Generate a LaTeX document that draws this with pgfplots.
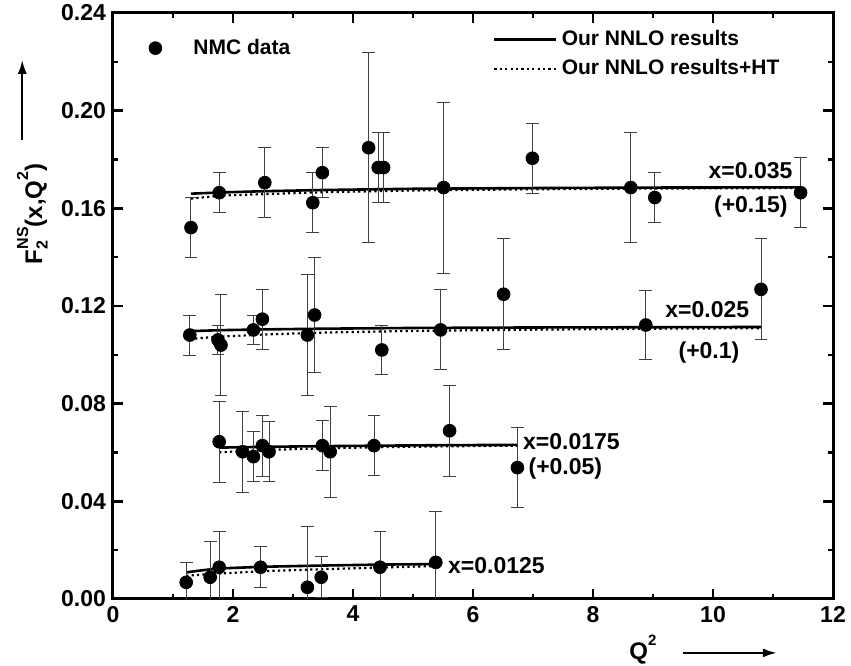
\documentclass[border=0pt]{standalone}
\usepackage{pgfplots}
\pgfplotsset{compat=1.18}
\usepackage{pgfplotstable}
\usepackage{fontspec}
\setmainfont{Liberation Sans}
\usetikzlibrary{arrows.meta}

\pgfplotstableread{
x y e
1.30 0.1521 0.0123
1.77 0.1664 0.0082
2.53 0.1705 0.0143
3.33 0.1623 0.0123
3.49 0.1746 0.0103
4.26 0.1848 0.0390
4.42 0.1767 0.0143
4.51 0.1767 0.0143
5.51 0.1685 0.0350
6.99 0.1805 0.0143
8.63 0.1685 0.0225
9.03 0.1644 0.0102
11.46 0.1664 0.0143
}\dataA
\pgfplotstableread{
x y e
1.28 0.1081 0.0082
1.75 0.1061 0.0061
1.80 0.1040 0.0205
2.34 0.1102 0.0061
2.49 0.1146 0.0123
3.24 0.1081 0.0249
3.36 0.1163 0.0234
4.48 0.1020 0.0102
5.46 0.1102 0.0164
6.51 0.1248 0.0227
8.88 0.1122 0.0143
10.80 0.1268 0.0207
}\dataB
\pgfplotstableread{
x y e
1.77 0.0644 0.0166
2.16 0.0603 0.0166
2.34 0.0583 0.0102
2.49 0.0628 0.0125
2.60 0.0603 0.0123
3.49 0.0628 0.0102
3.62 0.0603 0.0187
4.35 0.0628 0.0123
5.61 0.0689 0.0186
6.74 0.0538 0.0165
}\dataC
\pgfplotstableread{
x y e
1.22 0.0068 0.0082
1.62 0.0089 0.0146
1.77 0.0130 0.0146
2.46 0.0130 0.0083
3.24 0.0048 0.0248
3.47 0.0089 0.0084
4.45 0.0130 0.0146
5.38 0.0150 0.0208
}\dataD

\newcommand{\annfont}{\fontsize{11.5}{13}\selectfont\bfseries}

\begin{document}
\begin{tikzpicture}
\pgfplotsset{
  dataplot/.style={only marks, mark=*, mark size=3.2pt, black, forget plot,
    error bars/.cd, y dir=both, y explicit,
    error bar style={line width=0.5pt, black!75},
    error mark options={rotate=90, mark size=3.2pt, line width=0.5pt, black!75}},
  solidcurve/.style={black, line width=1.3pt},
  dotcurve/.style={black, line width=1.1pt, dash pattern=on 1.1pt off 1.6pt},
}
\begin{axis}[
  scale only axis, width=360pt, height=293pt,
  xmin=0, xmax=12, ymin=0, ymax=0.24,
  xtick={0,2,4,6,8,10,12}, minor xtick={1,3,5,7,9,11},
  ytick={0,0.04,0.08,0.12,0.16,0.20,0.24},
  minor ytick={0.02,0.06,0.10,0.14,0.18,0.22},
  tick align=inside,
  major tick length=5pt, minor tick length=2.5pt,
  tick style={line width=1.2pt, black},
  axis line style={line width=1.5pt},
  /pgf/number format/assume math mode=true,
  tick label style={font=\fontsize{11.5}{13}\selectfont\bfseries},
  yticklabel style={/pgf/number format/.cd, fixed, fixed zerofill, precision=2},
  xticklabel style={/pgf/number format/.cd, fixed, precision=0},
  clip mode=individual,
  legend image code/.code={\draw[#1] (0pt,0pt) -- (31pt,0pt);},
  legend style={draw=none, fill=none, inner sep=0pt, outer sep=0pt,
    at={(rel axis cs:0.528,0.930)}, anchor=west, row sep=1.5pt,
    font=\fontsize{10.5}{12}\selectfont\bfseries},
  legend cell align=left,
]
\coordinate (bl) at (rel axis cs:0,0);
\coordinate (tr) at (rel axis cs:1,1);

\addlegendimage{solidcurve}
\addlegendentry{Our NNLO results}
\addlegendimage{dotcurve}
\addlegendentry{Our NNLO results+HT}

% x = 0.035 (+0.15)
\addplot[dotcurve, forget plot] coordinates {(1.30,0.1640) (1.8,0.1652) (2.5,0.1658) (3.5,0.1666) (5,0.1673) (7,0.1678) (9,0.1681) (11.46,0.1683)};
\addplot[solidcurve, forget plot] coordinates {(1.30,0.1660) (1.8,0.1665) (2.5,0.1670) (3.5,0.1675) (5,0.1680) (7,0.1683) (9,0.1685) (11.46,0.1686)};
% x = 0.025 (+0.1)
\addplot[dotcurve, forget plot] coordinates {(1.28,0.1065) (1.8,0.1075) (2.5,0.1083) (3.5,0.1091) (5,0.1098) (7,0.1103) (9,0.1107) (10.8,0.1109)};
\addplot[solidcurve, forget plot] coordinates {(1.28,0.1097) (1.8,0.1101) (2.5,0.1104) (3.5,0.1107) (5,0.1110) (7,0.1112) (9,0.1113) (10.8,0.1114)};
% x = 0.0175 (+0.05)
\addplot[dotcurve, forget plot] coordinates {(1.77,0.0601) (2.5,0.0610) (3.5,0.0617) (4.5,0.0622) (5.5,0.0625) (6.74,0.0628)};
\addplot[solidcurve, forget plot] coordinates {(1.77,0.0620) (2.5,0.0623) (3.5,0.0626) (4.5,0.0628) (5.5,0.0630) (6.74,0.0631)};
% x = 0.0125
\addplot[dotcurve, forget plot] coordinates {(1.22,0.0095) (1.5,0.0100) (1.77,0.0104) (2.5,0.0114) (3.5,0.0122) (4.5,0.0129) (5.38,0.0135)};
\addplot[solidcurve, forget plot] coordinates {(1.22,0.0109) (1.5,0.0118) (1.77,0.0125) (2.5,0.0132) (3.5,0.0137) (4.5,0.0141) (5.38,0.0143)};

\addplot[dataplot] table[x=x, y=y, y error=e] {\dataA};
\addplot[dataplot] table[x=x, y=y, y error=e] {\dataB};
\addplot[dataplot] table[x=x, y=y, y error=e] {\dataC};
\addplot[dataplot] table[x=x, y=y, y error=e] {\dataD};

\node[anchor=east, inner sep=0pt, font=\annfont] at (axis cs:11.33,0.1754) {x=0.035};
\node[anchor=east, inner sep=0pt, font=\annfont] at (axis cs:11.25,0.1607) {(+0.15)};
\node[anchor=west, inner sep=0pt, font=\annfont] at (axis cs:9.20,0.1186) {x=0.025};
\node[anchor=west, inner sep=0pt, font=\annfont] at (axis cs:9.42,0.1009) {(+0.1)};
\node[anchor=west, inner sep=0pt, font=\annfont] at (axis cs:6.83,0.0644) {x=0.0175};
\node[anchor=west, inner sep=0pt, font=\annfont] at (axis cs:6.92,0.0535) {(+0.05)};
\node[anchor=west, inner sep=0pt, font=\annfont] at (axis cs:5.58,0.0137) {x=0.0125};

\node[rotate=90, anchor=base, inner sep=0pt, font=\fontsize{12}{14}\selectfont\bfseries] at (rel axis cs:-0.0986,0.657)
  {F\rlap{\raisebox{-0.45ex}{\fontsize{8}{9}\selectfont 2}}\raisebox{1.1ex}{\fontsize{8}{9}\selectfont NS}(x,Q\raisebox{1.1ex}{\fontsize{8}{9}\selectfont 2})};
\draw[-{Latex[length=7pt,width=4.5pt]}, line width=1.1pt] (rel axis cs:-0.126,0.783) -- (rel axis cs:-0.126,0.920);
\node[inner sep=0pt, font=\fontsize{12}{13}\selectfont\bfseries] at (rel axis cs:0.736,-0.087)
  {Q\raisebox{1.1ex}{\fontsize{7.5}{8}\selectfont 2}};
\draw[-{Latex[length=7pt,width=4.5pt]}, line width=1.1pt] (rel axis cs:0.792,-0.092) -- (rel axis cs:0.922,-0.092);
\end{axis}

\begin{axis}[
  scale only axis, width=360pt, height=293pt,
  xmin=0, xmax=12, ymin=0, ymax=0.24,
  hide axis,
  legend image code/.code={\path[#1] plot[only marks] coordinates {(8.5pt,0pt)}; \node[inner sep=0pt, minimum size=0pt] at (25.5pt,0pt) {};},
  legend style={draw=none, fill=none, inner sep=0pt, outer sep=0pt,
    at={(rel axis cs:0.050,0.940)}, anchor=west,
    font=\fontsize{10.5}{12}\selectfont\bfseries},
]
\addlegendimage{mark=*, mark size=3.2pt, black}
\addlegendentry{NMC data}
\end{axis}

\pgfresetboundingbox
\path (bl) ++(-56.5pt,-33.5pt) rectangle ([shift={(9pt,6.5pt)}]tr);
\end{tikzpicture}
\end{document}
